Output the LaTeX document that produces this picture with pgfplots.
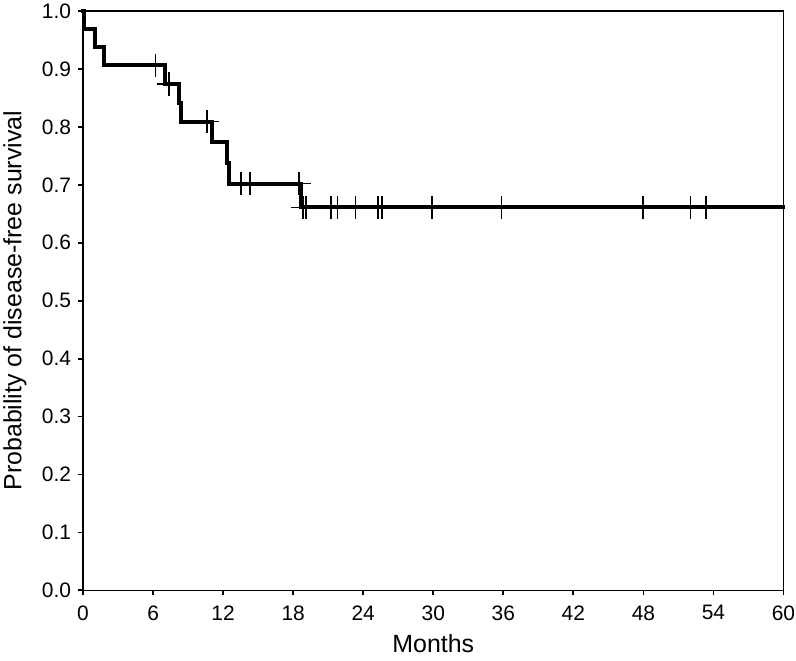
\documentclass[border=0pt]{standalone}
\usepackage{fontspec}
\setmainfont{Liberation Sans}
\usepackage{pgfplots}
\pgfplotsset{compat=1.18}

% Kaplan-Meier step curve (time in months, survival probability)
\pgfplotstableread{
t      s
0      1.000
0.1    1.000
0.1    0.969
1.0    0.969
1.0    0.938
1.8    0.938
1.8    0.906
7.04   0.906
7.04   0.874
8.2    0.874
8.2    0.842
8.35   0.842
8.35   0.809
11.05  0.809
11.05  0.774
12.34  0.774
12.34  0.738
12.5   0.738
12.5   0.702
18.65  0.702
18.65  0.661
60     0.661
}\kmcurve

% censored observations
\pgfplotstableread{
t      s
6.2    0.906
7.34   0.874
10.6   0.809
13.54  0.702
14.28  0.702
18.5   0.702
18.85  0.661
19.08  0.661
21.22  0.661
21.8   0.661
23.34  0.661
25.28  0.661
25.62  0.661
29.9   0.661
35.85  0.661
47.99  0.661
52.05  0.661
53.36  0.661
}\censored

\begin{document}
\begin{tikzpicture}
\useasboundingbox (-41.5bp,-35bp) rectangle (356.25bp,295bp);
\begin{axis}[
    scale only axis,
    width=350bp,
    height=289.5bp,
    xmin=0, xmax=60,
    ymin=0, ymax=1,
    xtick={0,6,12,18,24,30,36,42,48,54,60},
    ytick={0,0.1,0.2,0.3,0.4,0.5,0.6,0.7,0.8,0.9,1.0},
    yticklabel style={/pgf/number format/.cd, fixed, fixed zerofill, precision=1},
    xticklabel style={yshift=-1.5bp},
    /pgf/number format/assume math mode=true,
    tick align=outside,
    tick pos=left,
    major tick length=2.5bp,
    every tick/.style={black, line width=0.9bp},
    axis line style={line width=0.8bp},
    tick label style={font=\fontsize{10.5}{12}\selectfont},
    label style={font=\fontsize{12.5}{14}\selectfont},
    xlabel={Months},
    ylabel={Probability of disease-free survival},
    xlabel style={at={(axis description cs:0.5,0)}, anchor=center, yshift=-26.5bp},
    ylabel style={at={(axis description cs:0,0.5)}, anchor=center, yshift=34bp},
    clip=false,
]
\addplot[black, line width=2bp, line join=miter, line cap=rect] table[x=t, y=s] {\kmcurve};
\addplot[only marks, mark=+, mark size=5.85bp, black, mark options={line width=0.8bp}] table[x=t, y=s] {\censored};
\end{axis}
\end{tikzpicture}
\end{document}
